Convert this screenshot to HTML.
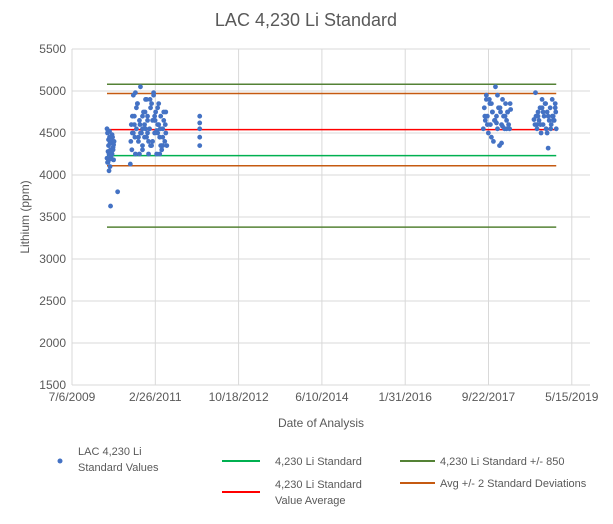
<!DOCTYPE html>
<html><head><meta charset="utf-8"><style>
html,body{margin:0;background:#fff;font-family:"Liberation Sans",sans-serif;overflow:hidden;width:613px;height:524px}
svg text{font-family:"Liberation Sans",sans-serif;fill:#595959}
</style></head><body>
<svg id="c" width="613" height="524">
<text x="306" y="26" text-anchor="middle" font-size="18">LAC 4,230 Li Standard</text>
<g id="grid"></g><g id="lines"></g><g id="pts"></g><g id="axes"></g>
<text x="0" y="0" transform="translate(29,217) rotate(-90)" text-anchor="middle" font-size="12">Lithium (ppm)</text>
<text x="321" y="427" text-anchor="middle" font-size="12">Date of Analysis</text>
<g font-size="11">
<circle cx="60" cy="461" r="2.5" fill="#4472c4"/>
<text x="78" y="455">LAC 4,230 Li</text>
<text x="78" y="471">Standard Values</text>
<line x1="222" y1="461" x2="260" y2="461" stroke="#00b050" stroke-width="2"/>
<text x="275" y="465">4,230 Li Standard</text>
<line x1="222" y1="492" x2="260" y2="492" stroke="#ff0000" stroke-width="2"/>
<text x="275" y="488">4,230 Li Standard</text>
<text x="275" y="504">Value Average</text>
<line x1="400" y1="461" x2="435" y2="461" stroke="#548235" stroke-width="2"/>
<text x="440" y="465">4,230 Li Standard +/- 850</text>
<line x1="400" y1="483" x2="435" y2="483" stroke="#c55a11" stroke-width="2"/>
<text x="440" y="487">Avg +/- 2 Standard Deviations</text>
</g>
</svg>
<script>
const yTicks=[1500,2000,2500,3000,3500,4000,4500,5000,5500];
const xTickLabels=["7/6/2009","2/26/2011","10/18/2012","6/10/2014","1/31/2016","9/22/2017","5/15/2019"];
const xTickDays=[0,600,1200,1800,2400,3000,3600];
const refValues=[4230,4540,5080,3380,4970,4110];
const refNames=["standard-line","average-line","plus-850-line","minus-850-line","plus-2sd-line","minus-2sd-line"];
const refColors=["#00b050","#ff0000","#548235","#548235","#c55a11","#c55a11"];
const refStartYear=2010.2, refEndYear=2019.06;
const dates=[2010.2,2010.21,2010.22,2010.23,2010.24,2010.25,2010.26,2010.27,2010.28,2010.29,2010.3,2010.31,2010.32,2010.33,2010.2,2010.22,2010.24,2010.26,2010.28,2010.3,2010.32,2010.34,2010.21,2010.25,2010.29,2010.33,2010.23,2010.27,2010.31,2010.27,2010.41,
2010.66,2010.67,2010.68,2010.69,2010.7,2010.72,2010.74,2010.76,2010.78,2010.8,2010.82,2010.84,2010.86,2010.88,2010.9,2010.92,2010.94,2010.96,2010.98,2011.0,2011.02,2011.04,2011.06,2011.08,2011.1,2011.12,2011.14,2011.16,2011.18,2011.2,2011.22,2011.24,2011.26,2011.28,2011.3,2011.32,2011.34,2011.36,2011.38,2010.7,2010.75,2010.8,2010.85,2010.9,2010.95,2011.0,2011.05,2011.1,2011.15,2011.2,2011.25,2011.3,2011.35,2010.72,2010.78,2010.84,2010.9,2010.96,2011.02,2011.08,2011.14,2011.2,2011.26,2011.32,2010.74,2010.82,2010.9,2010.98,2011.06,2011.14,2011.22,2011.3,2010.86,2011.0,2011.12,2011.24,2011.36,2010.76,2010.94,2011.18,2011.28,
2012.03,2012.03,2012.03,2012.03,2012.03,
2017.62,2017.64,2017.66,2017.68,2017.7,2017.72,2017.74,2017.76,2017.78,2017.8,2017.82,2017.84,2017.86,2017.88,2017.9,2017.92,2017.94,2017.96,2017.98,2018.0,2018.02,2018.04,2018.06,2018.08,2018.1,2018.12,2018.14,2017.65,2017.7,2017.75,2017.8,2017.85,2017.9,2017.95,2018.0,2018.05,2018.1,2018.15,2017.68,2017.78,2017.88,2017.98,2018.08,2018.16,
2018.62,2018.64,2018.66,2018.68,2018.7,2018.72,2018.74,2018.76,2018.78,2018.8,2018.82,2018.84,2018.86,2018.88,2018.9,2018.92,2018.94,2018.96,2018.98,2019.0,2019.02,2019.04,2019.06,2018.65,2018.7,2018.75,2018.8,2018.85,2018.9,2018.95,2019.0,2019.05,2018.68,2018.78,2018.88,2018.98,2019.04];
const values=[4200,4500,4150,4350,4250,4450,4100,4300,4200,4400,4250,4450,4300,4180,4550,4280,4050,4380,4220,4480,4330,4400,4150,4520,4260,4360,4420,4190,4300,3630,3800,
4130,4400,4600,4300,4500,4950,4700,4250,4550,4850,4400,4650,5050,4500,4300,4750,4600,4900,4450,4700,4250,4550,4800,4350,4650,4950,4500,4750,4250,4600,4850,4450,4700,4300,4550,4650,4400,4500,4350,4700,4450,4850,4600,4350,4750,4500,4900,4400,4650,4800,4550,4350,4600,4500,4800,4250,4700,4550,4400,4850,4650,4500,4350,4750,4600,4450,4550,4900,4350,4700,4600,4450,4500,4650,4980,4250,4750,4980,4450,4530,4350,
4350,4450,4550,4620,4700,
4550,4800,4650,4950,4700,4500,4900,4600,4850,4750,4400,4650,5050,4700,4550,4800,4350,4750,4600,4900,4700,4550,4850,4650,4750,4600,4550,4700,4600,4850,4750,4650,4950,4800,4580,4700,4750,4850,4900,4450,4620,4380,4550,4780,4660,
4600,4700,4550,4750,4650,4800,4500,4900,4600,4700,4850,4550,4750,4320,4650,4800,4600,4900,4700,4650,4800,4550,4980,4700,4600,4750,4850,4700,4550,4650,4750,4600,4800,4500,4700,4850,4620];
const X0=72,X1=590,Y0=385,Y1=49;
const day0=Date.UTC(2009,6,6);
function xDay(d){return X0+d*(83.3/600);}
function xYear(y){const yr=Math.floor(y);const ms=Date.UTC(yr,0,1)+(y-yr)*365.25*864e5;return xDay((ms-day0)/864e5);}
function yv(v){return Y0-(v-1500)*(Y0-Y1)/4000;}
const NS="http://www.w3.org/2000/svg";
function mk(t,a,p){const e=document.createElementNS(NS,t);for(const k in a)e.setAttribute(k,a[k]);p.appendChild(e);return e;}
const grid=document.getElementById('grid'),axes=document.getElementById('axes'),lines=document.getElementById('lines'),pts=document.getElementById('pts');
yTicks.forEach(v=>{const y=yv(v);
 const l=mk('line',{x1:X0,x2:X1,y1:y,y2:y,stroke:'#d9d9d9','stroke-width':1},grid);
 
 
 const t=mk('text',{x:X0-6,y:y+4,'text-anchor':'end','font-size':'12'},axes);t.textContent=v;
 
 });
xTickDays.forEach((d,i)=>{const x=xDay(d);
 const l=mk('line',{x1:x,x2:x,y1:Y1,y2:Y0,stroke:'#d9d9d9','stroke-width':1},grid);
 
 
 const t=mk('text',{x:x,y:Y0+16,'text-anchor':'middle','font-size':'12'},axes);t.textContent=xTickLabels[i];
 
 });
refValues.forEach((v,i)=>{const y=yv(v);
 const l=mk('line',{x1:xYear(refStartYear),x2:xYear(refEndYear),y1:y,y2:y,stroke:refColors[i],'stroke-width':1.5},lines);
 
 });
dates.forEach((d,i)=>{const c=mk('circle',{cx:xYear(d),cy:yv(values[i]),r:2.4,fill:'#4472c4'},pts);
 
 });
</script>
</body></html>
